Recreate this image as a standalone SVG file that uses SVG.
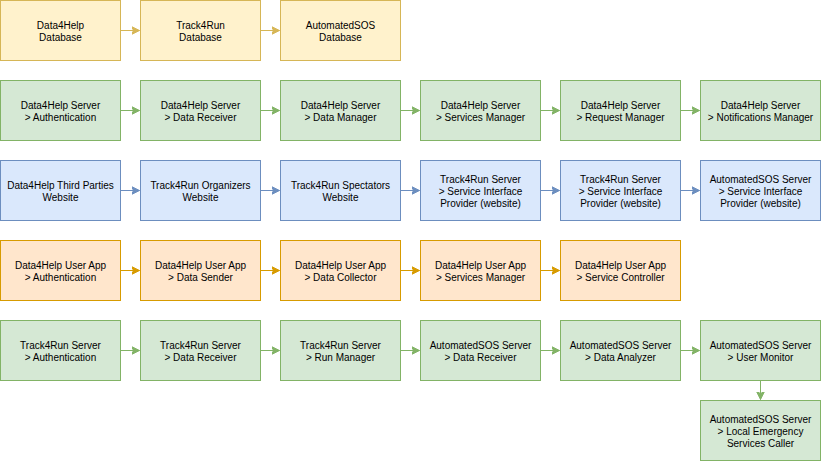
<svg xmlns="http://www.w3.org/2000/svg" width="821" height="461" viewBox="0 0 821 461">
<style>
rect{stroke-width:1}
.y rect{fill:#fff2cc;stroke:#d6b656}
.g rect{fill:#d5e8d4;stroke:#82b366}
.b rect{fill:#dae8fc;stroke:#6c8ebf}
.o rect{fill:#ffe6cc;stroke:#d79b00}
text{font-family:"Liberation Sans",Arial,sans-serif;font-size:10px;fill:#000;text-anchor:middle}
.cy{stroke:#d6b656;fill:none}
.cg{stroke:#82b366;fill:none}
.cb{stroke:#6c8ebf;fill:none}
.co{stroke:#d79b00;fill:none}
</style>
<defs>
<marker id="ay" markerUnits="userSpaceOnUse" markerWidth="10" markerHeight="10" refX="8" refY="4.5" orient="auto"><path d="M0,0.5 L8,4.5 L0,8.5 L2,4.5 Z" fill="#d6b656" stroke="#d6b656"/></marker>
<marker id="ag" markerUnits="userSpaceOnUse" markerWidth="10" markerHeight="10" refX="8" refY="4.5" orient="auto"><path d="M0,0.5 L8,4.5 L0,8.5 L2,4.5 Z" fill="#82b366" stroke="#82b366"/></marker>
<marker id="ab" markerUnits="userSpaceOnUse" markerWidth="10" markerHeight="10" refX="8" refY="4.5" orient="auto"><path d="M0,0.5 L8,4.5 L0,8.5 L2,4.5 Z" fill="#6c8ebf" stroke="#6c8ebf"/></marker>
<marker id="ao" markerUnits="userSpaceOnUse" markerWidth="10" markerHeight="10" refX="8" refY="4.5" orient="auto"><path d="M0,0.5 L8,4.5 L0,8.5 L2,4.5 Z" fill="#d79b00" stroke="#d79b00"/></marker>
</defs>
<g id="connectors">
<path class="cy" marker-end="url(#ay)" d="M120.5,30.5 H139.5"/>
<path class="cy" marker-end="url(#ay)" d="M260.5,30.5 H279.5"/>
<path class="cg" marker-end="url(#ag)" d="M120.5,110.5 H139.5"/>
<path class="cg" marker-end="url(#ag)" d="M260.5,110.5 H279.5"/>
<path class="cg" marker-end="url(#ag)" d="M400.5,110.5 H419.5"/>
<path class="cg" marker-end="url(#ag)" d="M540.5,110.5 H559.5"/>
<path class="cg" marker-end="url(#ag)" d="M680.5,110.5 H699.5"/>
<path class="cb" marker-end="url(#ab)" d="M120.5,190.5 H139.5"/>
<path class="cb" marker-end="url(#ab)" d="M260.5,190.5 H279.5"/>
<path class="cb" marker-end="url(#ab)" d="M400.5,190.5 H419.5"/>
<path class="cb" marker-end="url(#ab)" d="M540.5,190.5 H559.5"/>
<path class="cb" marker-end="url(#ab)" d="M680.5,190.5 H699.5"/>
<path class="co" marker-end="url(#ao)" d="M120.5,270.5 H139.5"/>
<path class="co" marker-end="url(#ao)" d="M260.5,270.5 H279.5"/>
<path class="co" marker-end="url(#ao)" d="M400.5,270.5 H419.5"/>
<path class="co" marker-end="url(#ao)" d="M540.5,270.5 H559.5"/>
<path class="cg" marker-end="url(#ag)" d="M120.5,350.5 H139.5"/>
<path class="cg" marker-end="url(#ag)" d="M260.5,350.5 H279.5"/>
<path class="cg" marker-end="url(#ag)" d="M400.5,350.5 H419.5"/>
<path class="cg" marker-end="url(#ag)" d="M540.5,350.5 H559.5"/>
<path class="cg" marker-end="url(#ag)" d="M680.5,350.5 H699.5"/>
<path class="cg" marker-end="url(#ag)" d="M760.5,380.5 V399.5"/>
</g>
<g id="n1" class="y"><rect x="0.5" y="0.5" width="120" height="60"/><text x="60.5" y="29">Data4Help</text><text x="60.5" y="41">Database</text></g>
<g id="n2" class="y"><rect x="140.5" y="0.5" width="120" height="60"/><text x="200.5" y="29">Track4Run</text><text x="200.5" y="41">Database</text></g>
<g id="n3" class="y"><rect x="280.5" y="0.5" width="120" height="60"/><text x="340.5" y="29">AutomatedSOS</text><text x="340.5" y="41">Database</text></g>

<g id="n4" class="g"><rect x="0.5" y="80.5" width="120" height="60"/><text x="60.5" y="109">Data4Help Server</text><text x="60.5" y="121">&gt; Authentication</text></g>
<g id="n5" class="g"><rect x="140.5" y="80.5" width="120" height="60"/><text x="200.5" y="109">Data4Help Server</text><text x="200.5" y="121">&gt; Data Receiver</text></g>
<g id="n6" class="g"><rect x="280.5" y="80.5" width="120" height="60"/><text x="340.5" y="109">Data4Help Server</text><text x="340.5" y="121">&gt; Data Manager</text></g>
<g id="n7" class="g"><rect x="420.5" y="80.5" width="120" height="60"/><text x="480.5" y="109">Data4Help Server</text><text x="480.5" y="121">&gt; Services Manager</text></g>
<g id="n8" class="g"><rect x="560.5" y="80.5" width="120" height="60"/><text x="620.5" y="109">Data4Help Server</text><text x="620.5" y="121">&gt; Request Manager</text></g>
<g id="n9" class="g"><rect x="700.5" y="80.5" width="120" height="60"/><text x="760.5" y="109">Data4Help Server</text><text x="760.5" y="121">&gt; Notifications Manager</text></g>

<g id="n10" class="b"><rect x="0.5" y="160.5" width="120" height="60"/><text x="60.5" y="189">Data4Help Third Parties</text><text x="60.5" y="201">Website</text></g>
<g id="n11" class="b"><rect x="140.5" y="160.5" width="120" height="60"/><text x="200.5" y="189">Track4Run Organizers</text><text x="200.5" y="201">Website</text></g>
<g id="n12" class="b"><rect x="280.5" y="160.5" width="120" height="60"/><text x="340.5" y="189">Track4Run Spectators</text><text x="340.5" y="201">Website</text></g>
<g id="n13" class="b"><rect x="420.5" y="160.5" width="120" height="60"/><text x="480.5" y="182.5">Track4Run Server</text><text x="480.5" y="194.5">&gt; Service Interface</text><text x="480.5" y="206.5">Provider (website)</text></g>
<g id="n14" class="b"><rect x="560.5" y="160.5" width="120" height="60"/><text x="620.5" y="182.5">Track4Run Server</text><text x="620.5" y="194.5">&gt; Service Interface</text><text x="620.5" y="206.5">Provider (website)</text></g>
<g id="n15" class="b"><rect x="700.5" y="160.5" width="120" height="60"/><text x="760.5" y="182.5">AutomatedSOS Server</text><text x="760.5" y="194.5">&gt; Service Interface</text><text x="760.5" y="206.5">Provider (website)</text></g>

<g id="n16" class="o"><rect x="0.5" y="240.5" width="120" height="60"/><text x="60.5" y="269">Data4Help User App</text><text x="60.5" y="281">&gt; Authentication</text></g>
<g id="n17" class="o"><rect x="140.5" y="240.5" width="120" height="60"/><text x="200.5" y="269">Data4Help User App</text><text x="200.5" y="281">&gt; Data Sender</text></g>
<g id="n18" class="o"><rect x="280.5" y="240.5" width="120" height="60"/><text x="340.5" y="269">Data4Help User App</text><text x="340.5" y="281">&gt; Data Collector</text></g>
<g id="n19" class="o"><rect x="420.5" y="240.5" width="120" height="60"/><text x="480.5" y="269">Data4Help User App</text><text x="480.5" y="281">&gt; Services Manager</text></g>
<g id="n20" class="o"><rect x="560.5" y="240.5" width="120" height="60"/><text x="620.5" y="269">Data4Help User App</text><text x="620.5" y="281">&gt; Service Controller</text></g>

<g id="n21" class="g"><rect x="0.5" y="320.5" width="120" height="60"/><text x="60.5" y="349">Track4Run Server</text><text x="60.5" y="361">&gt; Authentication</text></g>
<g id="n22" class="g"><rect x="140.5" y="320.5" width="120" height="60"/><text x="200.5" y="349">Track4Run Server</text><text x="200.5" y="361">&gt; Data Receiver</text></g>
<g id="n23" class="g"><rect x="280.5" y="320.5" width="120" height="60"/><text x="340.5" y="349">Track4Run Server</text><text x="340.5" y="361">&gt; Run Manager</text></g>
<g id="n24" class="g"><rect x="420.5" y="320.5" width="120" height="60"/><text x="480.5" y="349">AutomatedSOS Server</text><text x="480.5" y="361">&gt; Data Receiver</text></g>
<g id="n25" class="g"><rect x="560.5" y="320.5" width="120" height="60"/><text x="620.5" y="349">AutomatedSOS Server</text><text x="620.5" y="361">&gt; Data Analyzer</text></g>
<g id="n26" class="g"><rect x="700.5" y="320.5" width="120" height="60"/><text x="760.5" y="349">AutomatedSOS Server</text><text x="760.5" y="361">&gt; User Monitor</text></g>
<g id="n27" class="g"><rect x="700.5" y="400.5" width="120" height="60"/><text x="760.5" y="422.5">AutomatedSOS Server</text><text x="760.5" y="434.5">&gt; Local Emergency</text><text x="760.5" y="446.5">Services Caller</text></g>
</svg>
